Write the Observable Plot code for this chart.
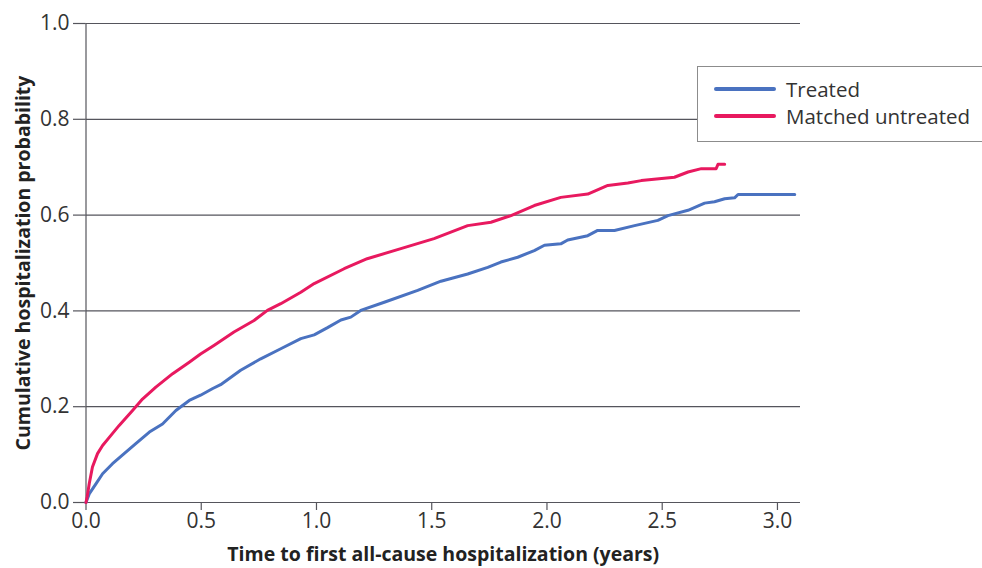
<!DOCTYPE html>
<html>
<head>
<meta charset="utf-8">
<script src="https://cdn.jsdelivr.net/npm/d3@7"></script>
<script src="https://cdn.jsdelivr.net/npm/@observablehq/plot@0.6"></script>
<style>
  html, body { margin: 0; padding: 0; background: #fff; overflow: hidden; }
  #wrap { position: relative; width: 982px; height: 568px; }
  #wrap svg { font-family: "Open Sans", sans-serif; }
  g[aria-label="x-axis label"] text, g[aria-label="y-axis label"] text {
    font-weight: bold; font-size: 19.5px; fill: #222;
  }
  g[aria-label="x-axis tick label"] text, g[aria-label="y-axis tick label"] text { fill: #333; font-size: 21px; }
  #legend {
    position: absolute; left: 697px; top: 66px; width: 320px; height: 74px;
    border: 1.5px solid #8c8c8c; background: #fff;
    font-family: "Open Sans", sans-serif; font-size: 20.5px; color: #333;
  }
  .item { position: absolute; left: 16px; height: 24px; display: flex; align-items: center; }
  .swatch { width: 62px; height: 4px; border-radius: 2px; margin-right: 10px; }
</style>
</head>
<body>
<div id="wrap"></div>
<script>
const timeTreated = [0, 0.014, 0.043, 0.072, 0.115, 0.173, 0.216, 0.275, 0.332, 0.39, 0.448, 0.497, 0.55, 0.584, 0.671, 0.758, 0.845, 0.932, 0.99, 1.048, 1.106, 1.149, 1.192, 1.294, 1.439, 1.54, 1.656, 1.743, 1.80, 1.873, 1.945, 1.989, 2.06, 2.09, 2.177, 2.22, 2.293, 2.38, 2.481, 2.525, 2.612, 2.684, 2.727, 2.771, 2.814, 2.829, 3.075];
const probTreated = [0, 0.018, 0.039, 0.06, 0.081, 0.105, 0.123, 0.147, 0.164, 0.192, 0.213, 0.224, 0.238, 0.246, 0.276, 0.30, 0.321, 0.342, 0.350, 0.365, 0.381, 0.387, 0.401, 0.418, 0.443, 0.462, 0.477, 0.491, 0.502, 0.512, 0.526, 0.537, 0.540, 0.548, 0.557, 0.568, 0.568, 0.578, 0.589, 0.599, 0.610, 0.625, 0.628, 0.634, 0.636, 0.643, 0.643];
const timeUntreated = [0, 0.005, 0.014, 0.028, 0.05, 0.072, 0.101, 0.144, 0.202, 0.245, 0.303, 0.376, 0.448, 0.497, 0.555, 0.642, 0.729, 0.787, 0.845, 0.932, 0.99, 1.12, 1.22, 1.366, 1.51, 1.656, 1.757, 1.844, 1.945, 2.06, 2.177, 2.264, 2.351, 2.409, 2.553, 2.612, 2.67, 2.734, 2.742, 2.771];
const probUntreated = [0, 0.012, 0.039, 0.074, 0.102, 0.119, 0.136, 0.161, 0.192, 0.216, 0.241, 0.269, 0.293, 0.310, 0.328, 0.356, 0.380, 0.401, 0.415, 0.439, 0.457, 0.488, 0.509, 0.530, 0.551, 0.578, 0.585, 0.599, 0.62, 0.637, 0.644, 0.662, 0.667, 0.672, 0.679, 0.69, 0.697, 0.697, 0.706, 0.706];

const seriesNames = ["Treated", "Matched untreated"];
const seriesColors = ["#4a72c0", "#e8195f"];
const xTicks = [0, 0.5, 1.0, 1.5, 2.0, 2.5, 3.0];
const yTicks = [0, 0.2, 0.4, 0.6, 0.8, 1.0];
const xTitle = "Time to first all-cause hospitalization (years)";
const yTitle = "Cumulative hospitalization probability";

const treated = timeTreated.map((t, i) => ({t, p: probTreated[i], s: seriesNames[0]}));
const untreated = timeUntreated.map((t, i) => ({t, p: probUntreated[i], s: seriesNames[1]}));

const gridColor = "#55555c";

const chart = Plot.plot({
  width: 982,
  height: 568,
  marginLeft: 85.5,
  marginRight: 182,
  marginTop: 23,
  marginBottom: 66,
  style: {fontSize: "21px", fontFamily: "'Open Sans', sans-serif", background: "#fff"},
  x: {domain: [0, 3.1]},
  y: {domain: [0, 1]},
  color: {domain: seriesNames, range: seriesColors},
  marks: [
    Plot.ruleY(yTicks, {stroke: gridColor, strokeWidth: 1.2, strokeOpacity: 1}),
    Plot.ruleX([0], {stroke: gridColor, strokeWidth: 1.2}),
    Plot.axisY(yTicks, {tickSize: 12.5, tickPadding: 4, stroke: gridColor, strokeWidth: 1.2, tickFormat: d3.format(".1f"),
      label: yTitle, labelAnchor: "center", labelArrow: "none", labelOffset: 70, fontSize: 21}),
    Plot.axisX(xTicks, {tickSize: 8, tickPadding: 3, stroke: gridColor, strokeWidth: 1.2, tickFormat: d3.format(".1f"),
      label: xTitle, labelAnchor: "center", labelArrow: "none", labelOffset: 58, fontSize: 21}),
    Plot.line(treated, {x: "t", y: "p", stroke: "s", strokeWidth: 3}),
    Plot.line(untreated, {x: "t", y: "p", stroke: "s", strokeWidth: 3})
  ]
});
document.getElementById("wrap").appendChild(chart);

const legend = document.createElement("div");
legend.id = "legend";
seriesNames.forEach((name, i) => {
  const item = document.createElement("div");
  item.className = "item";
  item.style.top = (10 + i * 27) + "px";
  const sw = document.createElement("span");
  sw.className = "swatch";
  sw.style.background = seriesColors[i];
  const lab = document.createElement("span");
  lab.textContent = name;
  item.appendChild(sw);
  item.appendChild(lab);
  legend.appendChild(item);
});
document.getElementById("wrap").appendChild(legend);
</script>
</body>
</html>
